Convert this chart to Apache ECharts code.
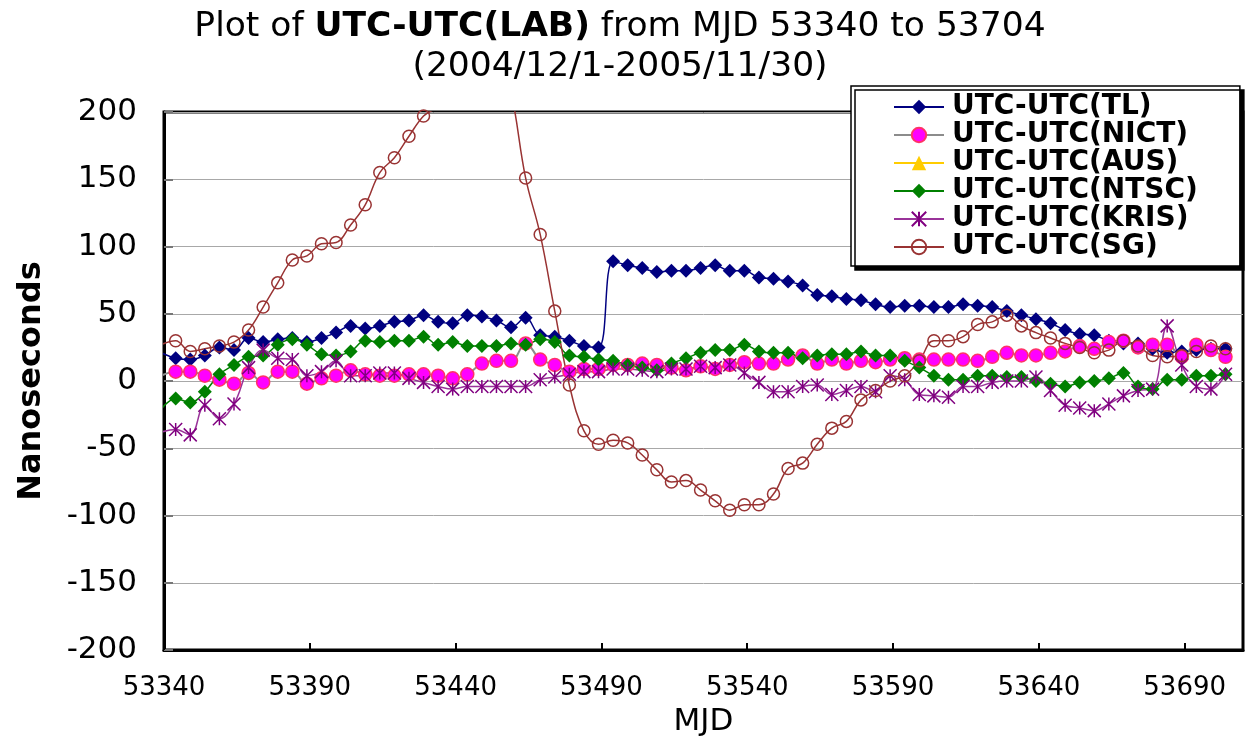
<!DOCTYPE html>
<html><head><meta charset="utf-8">
<script src="https://cdn.jsdelivr.net/npm/echarts@6/dist/echarts.min.js"></script>
<style>html,body{margin:0;padding:0;background:#fff}#c{width:1247px;height:742px}</style>
</head><body><div id="c"></div>
<script>
const mjd = [
53339,53344,53349,53354,53359,53364,53369,53374,53379,53384,
53389,53394,53399,53404,53409,53414,53419,53424,53429,53434,
53439,53444,53449,53454,53459,53464,53469,53474,53479,53484,
53489,53494,53499,53504,53509,53514,53519,53524,53529,53534,
53539,53544,53549,53554,53559,53564,53569,53574,53579,53584,
53589,53594,53599,53604,53609,53614,53619,53624,53629,53634,
53639,53644,53649,53654,53659,53664,53669,53674,53679,53684,
53689,53694,53699,53704];
const tl = [
21,17,16,19,25,23,32,29,31,32,
29,32,36,41,39,41,44,45,49,44,
43,49,48,45,40,47,34,33,30,26,
25,89,86,84,81,82,82,84,86,82,
82,77,76,74,71,64,63,61,60,57,
55,56,56,55,55,57,56,55,52,49,
46,43,38,35,34,30,28,28,24,21,
22,23,24,24];
const nict = [
4,7,7,4,1,-2,6,-1,7,7,
-2,2,4,8,5,4,4,5,5,4,
2,5,13,15,15,28,16,12,7,9,
9,12,12,13,12,10,8,11,9,12,
14,13,13,16,19,13,16,13,15,14,
16,17,16,16,16,16,15,18,21,19,
19,21,22,26,24,29,30,25,27,27,
18,27,23,18];
const aus = [];
const ntsc = [
-21,-13,-16,-8,5,12,18,19,27,31,
27,20,19,22,30,29,30,30,33,27,
29,26,26,26,28,27,31,29,19,18,
16,15,12,10,8,13,17,21,23,23,
27,22,21,21,17,19,20,20,22,19,
19,15,10,4,1,1,4,4,3,3,
0,-2,-4,-1,0,2,6,-4,-6,1,
1,4,4,5];
const kris = [
-38,-36,-40,-18,-28,-17,10,23,17,16,
4,7,15,4,4,6,6,2,-1,-4,
-6,-4,-4,-4,-4,-4,1,3,5,7,
7,9,9,8,7,9,9,11,10,12,
6,-1,-8,-8,-4,-3,-10,-7,-4,-8,
4,1,-10,-11,-12,-4,-4,-1,0,0,
3,-7,-18,-20,-22,-17,-11,-7,-6,41,
12,-4,-6,5];
const sg = [
27,30,22,24,26,29,38,55,73,90,
93,102,103,116,131,155,166,182,197,205,
230,255,265,250,215,151,109,52,-3,-37,
-47,-44,-46,-55,-66,-75,-74,-81,-89,-96,
-92,-92,-84,-65,-61,-47,-35,-30,-14,-7,
0,4,15,30,30,33,42,44,49,41,
36,32,28,25,21,23,30,26,19,18,
19,22,26,24];
const seriesNames = ['UTC-UTC(TL)','UTC-UTC(NICT)','UTC-UTC(AUS)','UTC-UTC(NTSC)','UTC-UTC(KRIS)','UTC-UTC(SG)'];

const F = '"DejaVu Sans", Verdana, sans-serif';
function pairs(v){ return v.map((y,i)=>[mjd[i], y]); }
const star = 'path://M0,0L10,10M10,0L0,10M5,0L5,10';
const SM = 0.4;

const chart = echarts.init(document.getElementById('c'), null, {renderer:'canvas'});
chart.setOption({
  animation: false,
  backgroundColor: '#fff',
  title: {
    left: 615, top: 2, textAlign: 'center',
    text: '{n|Plot of }{b|UTC-UTC(LAB)}{n| from MJD 53340 to 53704}\n{n|(2004/12/1-2005/11/30)}',
    textStyle: { fontWeight: 'normal', rich: {
      n: {fontFamily: F, fontSize: 34.5, color: '#000', fontWeight: 'normal', lineHeight: 40},
      b: {fontFamily: F, fontSize: 34.5, color: '#000', fontWeight: 'bold', lineHeight: 40}
    }}
  },
  legend: {
    orient: 'vertical', left: 851, top: 86,
    padding: [7, 42, 5, 42], itemGap: 0, itemWidth: 50, itemHeight: 18,
    backgroundColor: '#fff', borderColor: '#000', borderWidth: 1.5,
    shadowColor: '#000', shadowOffsetX: 4, shadowOffsetY: 4, shadowBlur: 0.01,
    selectedMode: false,
    textStyle: {fontFamily: F, fontWeight: 'bold', fontSize: 28, color: '#000', lineHeight: 28, padding: [0,0,0,3]},
    data: seriesNames
  },
  grid: {left: 164, top: 112, right: 4, bottom: 88, show: true, borderColor: '#000', borderWidth: 3, backgroundColor: '#fff'},
  xAxis: {
    type: 'value', min: 53340, max: 53710, interval: 50,
    axisLine: {show: true, onZero: false, lineStyle: {color: '#000', width: 3}},
    axisTick: {show: true, inside: true, length: 7, lineStyle: {color: '#000', width: 2}},
    axisLabel: {fontFamily: F, fontSize: 26, color: '#000', margin: 25, showMaxLabel: false,
      formatter: v => String(v)},
    splitLine: {show: false},
    name: 'MJD', nameLocation: 'middle', nameGap: 53,
    nameTextStyle: {fontFamily: F, fontSize: 31, color: '#000'}
  },
  yAxis: {
    type: 'value', min: -200, max: 200, interval: 50,
    axisLine: {show: true, onZero: false, lineStyle: {color: '#000', width: 3}},
    axisTick: {show: true, inside: true, length: 9, lineStyle: {color: '#777', width: 2}},
    axisLabel: {fontFamily: F, fontSize: 31, color: '#000', margin: 27},
    splitLine: {show: true, lineStyle: {color: '#a8a8a8', width: 1}},
    name: 'Nanoseconds', nameLocation: 'middle', nameGap: 116,
    nameTextStyle: {fontFamily: F, fontSize: 32, fontWeight: 'bold', color: '#000'}
  },
  series: [
    {name: seriesNames[0], type: 'line', data: pairs(tl), smooth: SM, symbol: 'diamond', symbolSize: 14,
     lineStyle: {color: '#000080', width: 1.5}, itemStyle: {color: '#000080'}},
    {name: seriesNames[1], type: 'line', data: pairs(nict), smooth: SM, symbol: 'circle', symbolSize: 13,
     lineStyle: {color: '#8c8c8c', width: 2}, itemStyle: {color: '#ff00ff', borderColor: '#ff3366', borderWidth: 1.5}},
    {name: seriesNames[2], type: 'line', data: aus, smooth: SM, symbol: 'triangle', symbolSize: 14,
     lineStyle: {color: '#ffcc00', width: 4}, itemStyle: {color: '#ffcc00'}},
    {name: seriesNames[3], type: 'line', data: pairs(ntsc), smooth: SM, symbol: 'diamond', symbolSize: 14,
     lineStyle: {color: '#008000', width: 1.5}, itemStyle: {color: '#008000'}},
    {name: seriesNames[4], type: 'line', data: pairs(kris), smooth: SM, symbol: star, symbolSize: 13,
     lineStyle: {color: '#993399', width: 1.5}, itemStyle: {color: '#800080', borderColor: '#800080', borderWidth: 1.5}},
    {name: seriesNames[5], type: 'line', data: pairs(sg), smooth: SM, symbol: 'circle', symbolSize: 12,
     lineStyle: {color: '#993333', width: 1.5}, itemStyle: {color: 'rgba(255,255,255,0)', borderColor: '#993333', borderWidth: 1.5}}
  ]
});
</script></body></html>
